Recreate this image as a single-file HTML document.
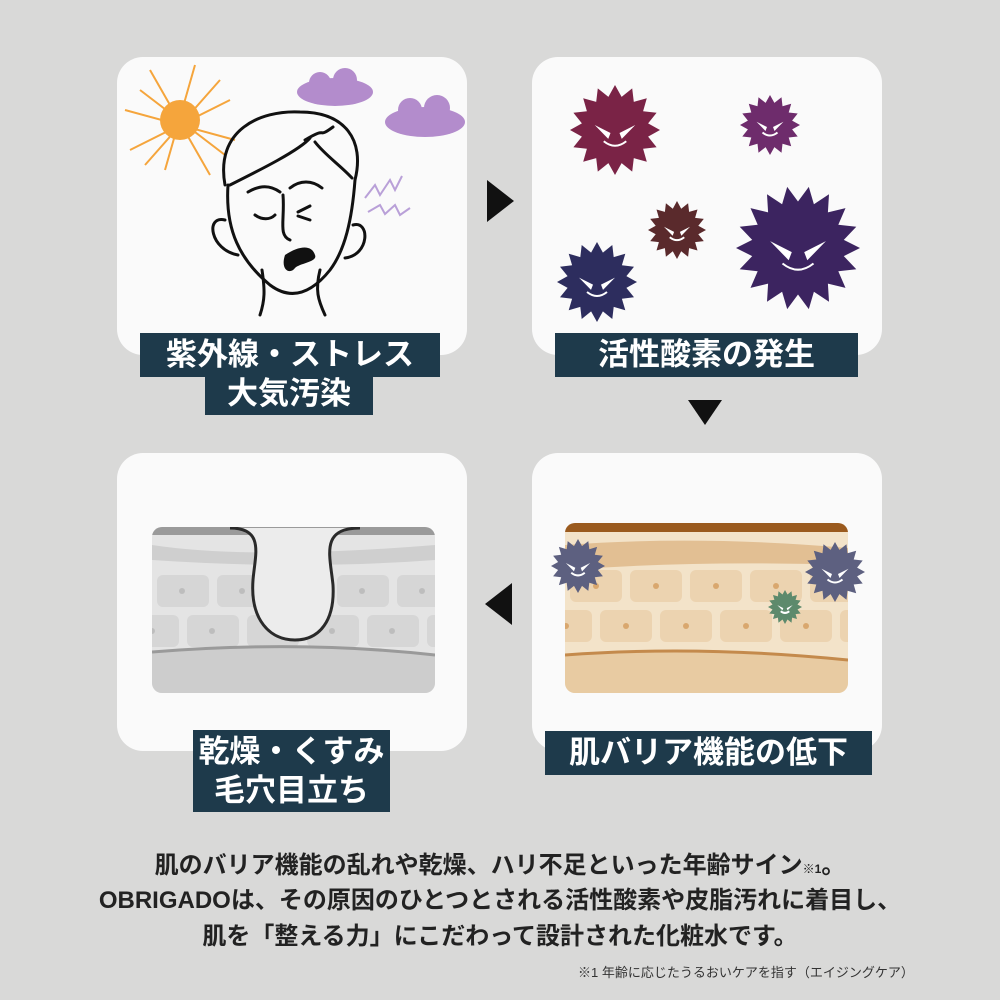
<!DOCTYPE html><html><head><meta charset="utf-8"><style>
body{margin:0;width:1000px;height:1000px;background:#d9d9d8;font-family:"Liberation Sans","Noto Sans CJK JP",sans-serif;position:relative;overflow:hidden}
.card{position:absolute;background:#fafafa;border-radius:26px;width:350px;height:298px}
.lb{position:absolute;background:#1e3a4b;color:#fff;font-weight:bold;font-size:31px;text-align:center;line-height:44px;white-space:nowrap}
.t{position:absolute;left:0;width:1000px;text-align:center;font-weight:bold;font-size:24px;color:#222;white-space:nowrap}
svg{position:absolute;left:0;top:0}
</style></head><body>
<div class="card" style="left:117px;top:57px"></div>
<div class="card" style="left:532px;top:57px"></div>
<div class="card" style="left:117px;top:453px"></div>
<div class="card" style="left:532px;top:453px"></div>
<svg id="s" width="1000" height="1000" viewBox="0 0 1000 1000">
<defs><clipPath id="c1"><rect x="152" y="527" width="283" height="166" rx="10"/></clipPath><clipPath id="c2"><rect x="565" y="523" width="283" height="170" rx="10"/></clipPath></defs>
<g stroke="#f5a53c" stroke-width="2"><line x1="125" y1="110" x2="235" y2="140"/><line x1="130" y1="150" x2="230" y2="100"/><line x1="150" y1="70" x2="210" y2="175"/><line x1="195" y1="65" x2="165" y2="170"/><line x1="140" y1="90" x2="225" y2="155"/><line x1="220" y1="80" x2="145" y2="165"/></g>
<circle cx="180" cy="120" r="20" fill="#f5a53c"/>
<g fill="#b38ccc"><ellipse cx="335" cy="92" rx="38" ry="14"/><circle cx="320" cy="83" r="11"/><circle cx="345" cy="80" r="12"/><ellipse cx="425" cy="122" rx="40" ry="15"/><circle cx="410" cy="110" r="12"/><circle cx="437" cy="108" r="13"/></g>
<g stroke="#b9a0d8" stroke-width="2" fill="none"><polyline points="365,198 375,185 380,195 390,180 395,190 402,176"/><polyline points="368,212 380,205 385,214 395,205 400,215 410,208"/></g>
<g stroke="#111" stroke-width="3" fill="none" stroke-linecap="round">
<path d="M225,185 C215,130 260,110 300,112 C345,112 365,140 355,180"/>
<path d="M230,185 C260,170 300,150 310,138 M315,142 C325,155 340,165 352,178 M305,140 C330,125 315,140 333,127"/>
<path d="M228,185 C225,230 240,260 270,285 C290,300 310,295 330,270 C345,250 352,220 355,180"/>
<path d="M225,220 C205,215 210,250 238,255 M353,225 C370,220 370,255 345,258"/>
<path d="M262,270 C265,290 265,300 260,315 M320,270 C315,290 318,300 325,315"/>
<path d="M248,192 C260,185 270,185 280,192 M290,188 C300,180 312,180 322,188"/>
<path d="M255,215 C262,220 270,220 275,215 M298,212 L310,206 M298,216 L310,220"/>
<path d="M283,195 C285,220 278,235 290,240"/></g>
<path d="M285,255 C300,245 312,245 315,255 C318,262 300,263 295,268 C290,275 280,270 285,255Z" fill="#111"/>
<g clip-path="url(#c1)"><rect x="152" y="527" width="283" height="166" fill="#e4e4e4"/>
<rect x="152" y="527" width="283" height="8" fill="#9a9a9a"/>
<path d="M152,545 Q250,560 435,545 L435,560 Q300,570 152,560Z" fill="#cfcfcf"/>
<g fill="#d6d6d6" id="gc"></g>
<path d="M152,652 Q300,640 435,655 L435,693 L152,693Z" fill="#cdcdcd"/>
<path d="M152,652 Q300,640 435,655" stroke="#9a9a9a" stroke-width="3" fill="none"/>
<path d="M230,528 C265,528 255,555 253,580 C250,620 270,640 295,640 C320,640 335,620 333,585 C330,555 320,528 360,528" stroke="#2a2a2a" stroke-width="3" fill="#ececec"/>
</g>
<g clip-path="url(#c2)"><rect x="565" y="523" width="283" height="170" fill="#f3e3c9"/>
<rect x="565" y="523" width="283" height="9" fill="#9a5a1e"/>
<path d="M565,545 Q700,535 848,548 L848,565 Q700,560 565,570Z" fill="#e2bf93"/>
<g fill="#ecd3b0" id="bc"></g>
<path d="M565,655 Q700,645 848,660 L848,693 L565,693Z" fill="#e8cba2"/>
<path d="M565,655 Q700,645 848,660" stroke="#c48a4c" stroke-width="3" fill="none"/>
</g>
<polygon points="487,180 514,201 487,222" fill="#111"/>
<polygon points="688,400 722,400 705,425" fill="#111"/>
<polygon points="512,583 485,604 512,625" fill="#111"/>
<g id="v"></g>
</svg>
<div class="lb" style="left:140px;top:333px;width:300px">紫外線・ストレス</div>
<div class="lb" style="left:205px;top:375px;width:168px;height:40px;line-height:38px">大気汚染</div>
<div class="lb" style="left:555px;top:333px;width:303px">活性酸素の発生</div>
<div class="lb" style="left:193px;top:730px;width:197px">乾燥・くすみ</div>
<div class="lb" style="left:193px;top:772px;width:197px;height:40px;line-height:38px">毛穴目立ち</div>
<div class="lb" style="left:545px;top:731px;width:327px">肌バリア機能の低下</div>
<div class="t" style="top:845px">肌のバリア機能の乱れや乾燥、ハリ不足といった年齢サイン<span style="font-size:12px">※1</span>。</div>
<div class="t" style="top:880px">OBRIGADOは、その原因のひとつとされる活性酸素や皮脂汚れに着目し、</div>
<div class="t" style="top:916px">肌を「整える力」にこだわって設計された化粧水です。</div>
<div style="position:absolute;left:578px;top:962px;font-size:13px;color:#333">※1 年齢に応じたうるおいケアを指す（エイジングケア）</div>
<script>
var ns="http://www.w3.org/2000/svg";
function el(p,t,a){var e=document.createElementNS(ns,t);for(var k in a)e.setAttribute(k,a[k]);p.appendChild(e);return e}
var gc=document.getElementById('gc'),bc=document.getElementById('bc');
[[575,0],[615,30]].forEach(function(r){for(var i=-1;i<6;i++){var x=152+i*60+(r[0]==575?0:30);el(gc,'rect',{x:x+5,y:r[0],width:52,height:32,rx:6});el(gc,'circle',{cx:x+30,cy:r[0]+16,r:3,fill:'#bdbdbd'});
var y2=r[0]-5;el(bc,'rect',{x:x+418,y:y2,width:52,height:32,rx:6});el(bc,'circle',{cx:x+444,cy:y2+16,r:3,fill:'#d9a76e'});}});
var v=document.getElementById('v');
function virus(cx,cy,r,c,n){var p=[];n=n||16;for(var i=0;i<n*2;i++){var a=i*Math.PI/n,rr=i%2?r*0.75:r;p.push((cx+rr*Math.cos(a)).toFixed(1)+','+(cy+rr*Math.sin(a)).toFixed(1))}
el(v,'polygon',{points:p.join(' '),fill:c});var e=r*0.22;
el(v,'path',{d:'M'+(cx-r*.45)+','+(cy-e*.5)+' l'+(r*.35)+','+(e*.8)+' l-'+(r*.05)+','+(e*.6)+'z M'+(cx+r*.45)+','+(cy-e*.5)+' l-'+(r*.35)+','+(e*.8)+' l'+(r*.05)+','+(e*.6)+'z',fill:'#fff'});
el(v,'path',{d:'M'+(cx-r*.25)+','+(cy+r*.25)+' Q'+cx+','+(cy+r*.45)+' '+(cx+r*.25)+','+(cy+r*.25),stroke:'#fff','stroke-width':2,fill:'none'});}
virus(615,130,45,'#7a2346');virus(770,125,30,'#6e2c6c');virus(677,230,29,'#5a2a2c');virus(597,282,40,'#2d2d5e');virus(798,248,62,'#3c2460',18);
virus(578,566,27,'#5d6080');virus(835,572,30,'#5d6080');virus(785,607,17,'#5d8a6c');
</script>
</body></html>
